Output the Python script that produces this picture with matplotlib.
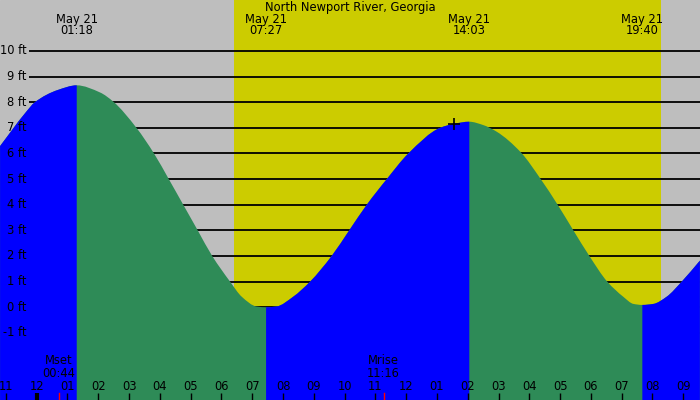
import numpy as np
import matplotlib
matplotlib.use("Agg")
import matplotlib.pyplot as plt
import matplotlib.transforms as mtransforms
from matplotlib.path import Path
from matplotlib.patches import PathPatch

# hours from midnight May 21, heights in ft
tide_hours = [-1.19, -0.38, -0.06, 0.69, 1.30, 2.06, 2.49, 3.24, 3.81, 4.29,
              4.76, 5.23, 5.70, 6.28, 6.66, 7.14, 7.45, 7.79, 8.33, 8.88,
              9.58, 10.15, 10.72, 11.37, 12.07, 13.10, 13.56, 14.05, 14.50, 14.94,
              15.72, 16.37, 16.92, 17.43, 17.95, 18.53, 19.05, 19.38, 19.67, 20.03,
              20.46, 20.95, 21.54]
tide_ft = [6.29, 7.57, 8.00, 8.48, 8.66, 8.38, 8.02, 7.00, 6.00, 5.00,
           4.00, 3.00, 2.00, 1.00, 0.41, 0.03, 0.00, 0.03, 0.41, 1.00,
           2.00, 3.00, 4.00, 5.00, 6.00, 7.00, 7.16, 7.24, 7.11, 6.85,
           6.05, 5.00, 4.00, 3.00, 2.00, 1.00, 0.41, 0.13, 0.09, 0.13,
           0.41, 1.00, 1.82]

event_hours = [1.30, 7.45, 14.05, 19.67]
event_labels = ["01:18", "07:27", "14:03", "19:40"]
sunrise, sunset = 6.41, 20.28
moon_hours = [0.73, 11.27]
moon_labels = ["Mset\n00:44", "Mrise\n11:16"]
marker_hour, marker_ft = 13.56, 7.14
ft_levels = list(range(-1, 11))
hour_ticks = list(range(-1, 22))

xmin, xmax = -1.192, 21.543
ymin, ymax = -3.62, 11.99


def slopes(x, y):
    # monotone cubic tangents so the peaks stay flat
    hx = np.diff(x)
    d = np.diff(y) / hx
    m = np.zeros_like(y)
    m[0], m[-1] = d[0], d[-1]
    for k in range(1, len(y) - 1):
        if d[k - 1] * d[k] > 0:
            w1 = 2 * hx[k] + hx[k - 1]
            w2 = hx[k] + 2 * hx[k - 1]
            m[k] = (w1 + w2) / (w1 / d[k - 1] + w2 / d[k])
    return m


def tide_patch(x, y, m, color):
    verts = [(x[0], ymin), (x[0], y[0])]
    codes = [Path.MOVETO, Path.LINETO]
    for i in range(len(x) - 1):
        dx = x[i + 1] - x[i]
        verts += [(x[i] + dx / 3, y[i] + m[i] * dx / 3),
                  (x[i + 1] - dx / 3, y[i + 1] - m[i + 1] * dx / 3),
                  (x[i + 1], y[i + 1])]
        codes += [Path.CURVE4] * 3
    verts += [(x[-1], ymin), (x[0], ymin)]
    codes += [Path.LINETO, Path.CLOSEPOLY]
    return PathPatch(Path(verts, codes), facecolor=color, lw=0, zorder=3)


fig = plt.figure(figsize=(7, 4), dpi=100)
ax = fig.add_axes([0, 0, 1, 1])
ax.set_xlim(xmin, xmax)
ax.set_ylim(ymin, ymax)
ax.axis("off")
ax.add_patch(plt.Rectangle((xmin, ymin), xmax - xmin, ymax - ymin,
                           color="#BEBEBE", zorder=0))
ax.axvspan(sunrise, sunset, color="#CCCC00", zorder=1, lw=0)

ax.hlines(ft_levels, -0.25, xmax, color="black", lw=1.3, zorder=2)

t = np.array(tide_hours)
h = np.array(tide_ft)
m = slopes(t, h)
# whole curve green (falling), then rising parts in blue on top
ax.add_patch(tide_patch(t, h, m, "#2E8B57"))
cuts = [0] + [int(np.argmin(np.abs(t - e))) for e in event_hours] + [len(t) - 1]
rising = h[cuts[1]] > h[0]
for a, b in zip(cuts[:-1], cuts[1:]):
    if rising:
        ax.add_patch(tide_patch(t[a:b + 1], h[a:b + 1], m[a:b + 1], "#0000FF"))
    rising = not rising

ax.plot(marker_hour, marker_ft, marker="+", color="black", ms=9, mew=1.2, zorder=5)

fs = 8.3
for lv in ft_levels:
    ax.text(-0.33, lv, f"{lv} ft", ha="right", va="center", fontsize=fs, zorder=6)

top = mtransforms.blended_transform_factory(ax.transData, ax.transAxes)
ax.text(0.5, 1 - 7 / 400, "North Newport River, Georgia", transform=ax.transAxes,
        ha="center", va="center", fontsize=fs, zorder=6)
for eh, lab in zip(event_hours, event_labels):
    ax.text(eh, 1 - 19 / 400, "May 21", transform=top, ha="center", va="center",
            fontsize=fs, zorder=6)
    ax.text(eh, 1 - 31 / 400, lab, transform=top, ha="center", va="center",
            fontsize=fs, zorder=6)

for hr in hour_ticks:
    lab = "%02d" % ((hr - 1) % 12 + 1)
    if hr % 12 == 0:
        lab = "12"
    ax.text(hr, 14 / 400, lab, transform=top, ha="center", va="center",
            fontsize=fs, zorder=6)
    ax.plot([hr, hr], [0, 7 / 400], transform=top, color="black",
            lw=3 if hr == 0 else 1, zorder=6, solid_capstyle="butt")

for mh, lab in zip(moon_hours, moon_labels):
    ax.plot([mh, mh], [0, 7 / 400], transform=top, color="red", lw=1, zorder=6)
    ax.text(mh, 33 / 400, lab, transform=top, ha="center", va="center",
            fontsize=fs, linespacing=0.95, zorder=6)

plt.savefig("out.png", dpi=100)
